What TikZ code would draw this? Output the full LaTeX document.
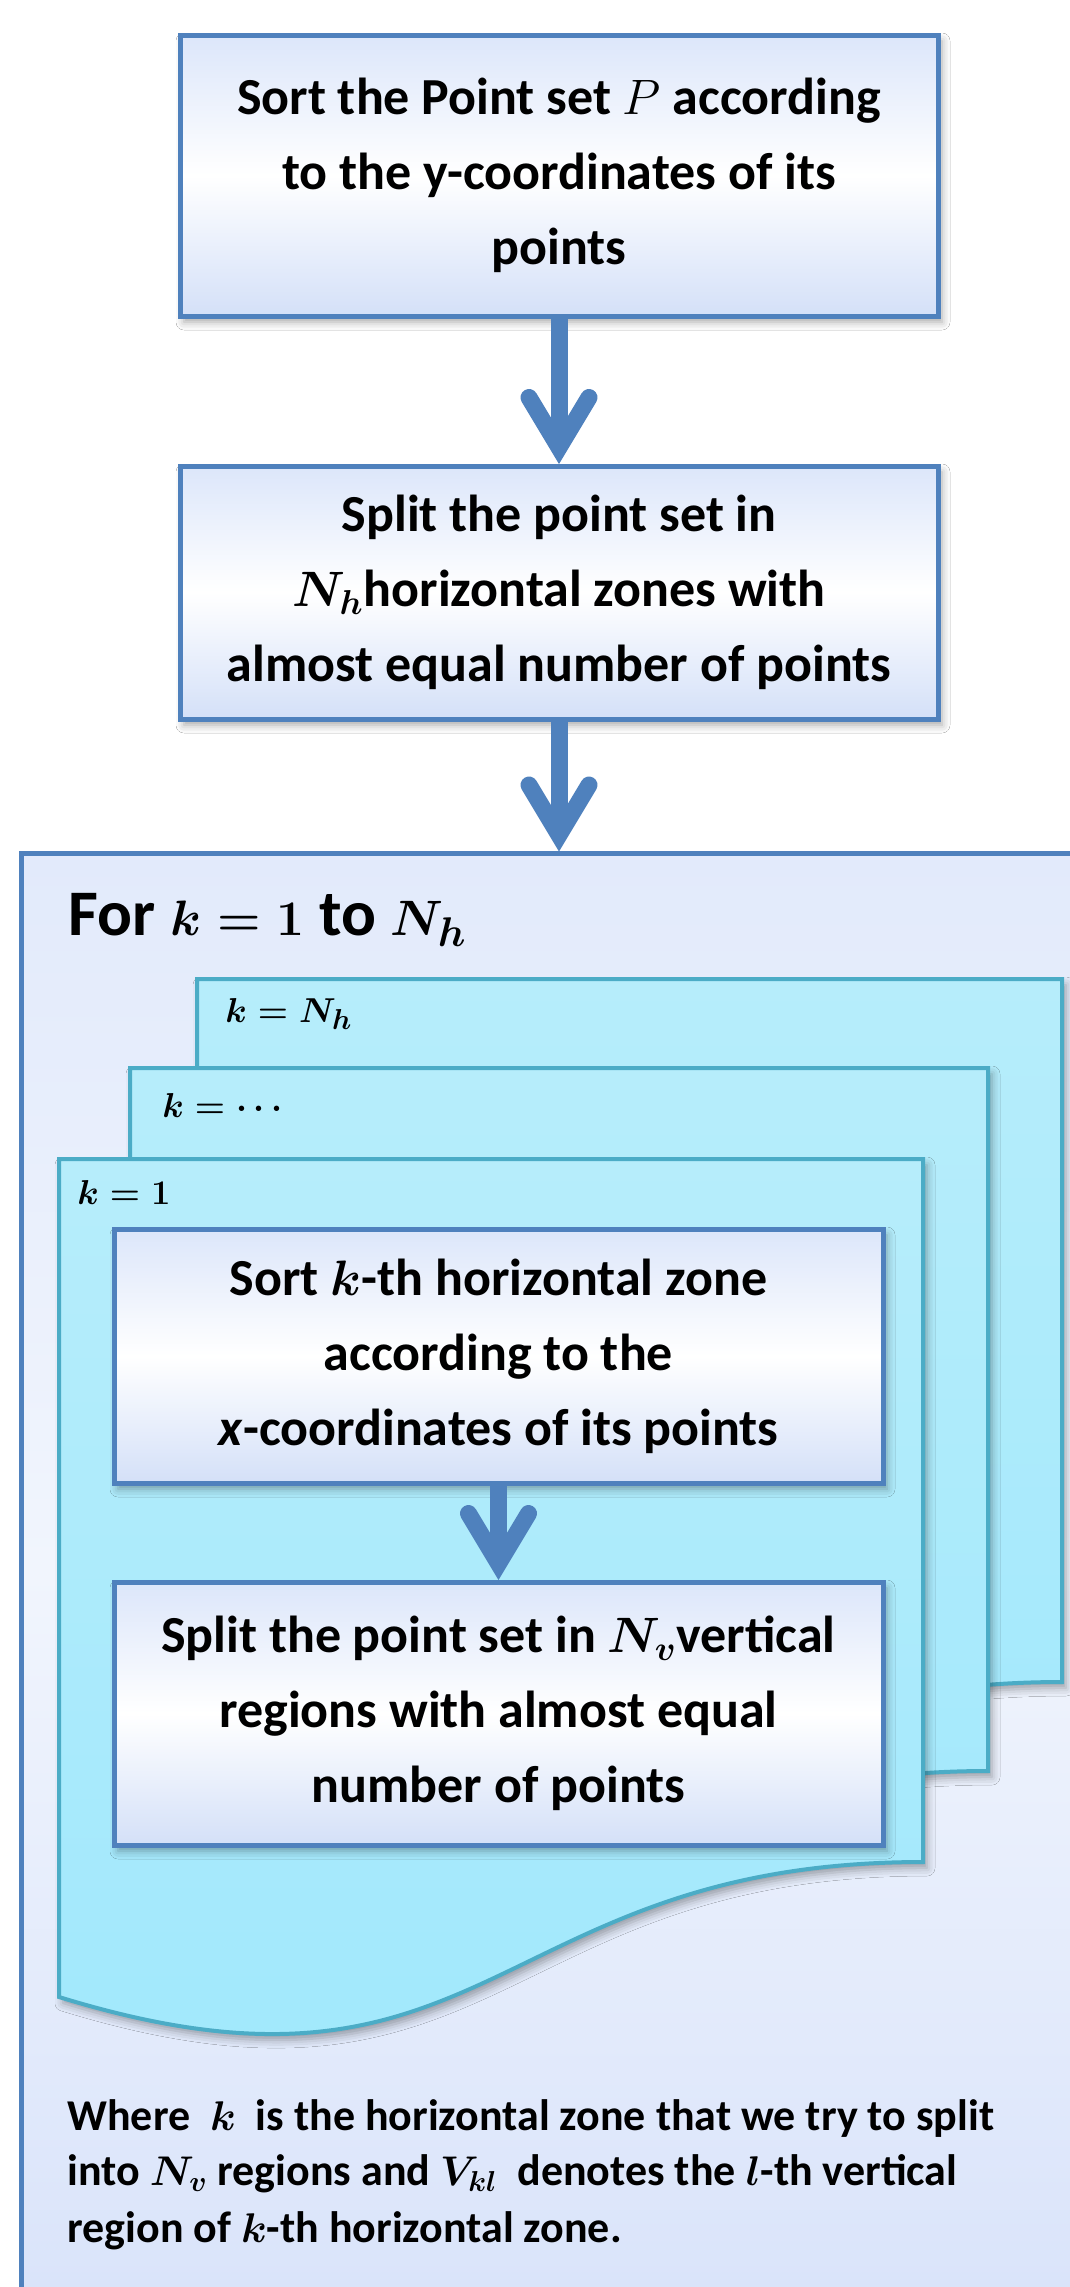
\documentclass[tikz,border=0pt]{standalone}
\usepackage{fontspec}
\setmainfont{Carlito}
\usetikzlibrary{shadows.blur,calc}
\definecolor{boxblue}{RGB}{79,129,189}
\definecolor{pageborder}{RGB}{75,172,198}
\definecolor{pagetop}{RGB}{182,237,251}
\definecolor{pagebot}{RGB}{160,232,252}
\definecolor{boxtop}{RGB}{220,230,250}
\definecolor{boxbot}{RGB}{212,224,248}
\definecolor{bigtop}{RGB}{226,234,251}
\definecolor{bigmid}{RGB}{241,245,253}
\definecolor{bigbot}{RGB}{218,228,250}
\begin{document}
\begin{tikzpicture}[x=0.5pt,y=-0.5pt,
  softshadow/.style={blur shadow={shadow xshift=2pt,shadow yshift=-3pt,shadow blur radius=4pt,shadow opacity=35}},
  flowbox/.style={draw=boxblue,line width=2.5pt,top color=boxtop,bottom color=boxbot,middle color=white,
    align=center,inner sep=0pt,softshadow,
    font=\bfseries\boldmath\fontsize{26}{37.5}\selectfont},
  pagesty/.style={draw=pageborder,line width=2pt,top color=pagetop,bottom color=pagebot,softshadow},
  shaft/.style={draw=boxblue,line width=8.5pt},
  barbs/.style={draw=boxblue,line width=8.5pt,line cap=round,line join=miter},
  lbl/.style={anchor=base west,inner sep=0pt,font=\bfseries\boldmath\fontsize{19}{23}\selectfont},
  note/.style={anchor=base west,inner sep=0pt,font=\bfseries\boldmath\fontsize{22}{28}\selectfont}]
\useasboundingbox (0,0) rectangle (1070,2287);
\fill[white] (0,0) rectangle (1070,2287);

% loop container
\fill[top color=bigtop,bottom color=bigbot,middle color=bigmid] (21,853) rectangle (1070,2287);
\draw[boxblue,line width=2.5pt] (21,2287) -- (21,853) -- (1070,853);
\coordinate (loop) at (559,853);

% top flow boxes
\node[flowbox,minimum width=379pt,minimum height=140.5pt] (b1) at (559,175.5)
  {Sort the Point set \mbox{\unboldmath$P$} according\\to the y-coordinates of its\\points};
\node[flowbox,minimum width=379pt,minimum height=126.5pt] (b2) at (559,592.5)
  {Split the point set in\\$N_h$horizontal zones with\\almost equal number of points};

% stacked pages
\path[pagesty] (197,979) -- (1062,979) -- (1062,1682) .. controls (629.5,1682) and (629.5,1950) .. (197,1817) -- cycle;
\path[pagesty] (130,1068) -- (988,1068) -- (988,1771) .. controls (559,1771) and (559,2039) .. (130,1906) -- cycle;
\path[pagesty] (59,1159) -- (923,1159) -- (923,1862) .. controls (491,1862) and (491,2130) .. (59,1997) -- cycle;

\node[lbl] (l3) at (225,1022) {$k = N_h$};
\node[lbl] (l2) at (162,1117) {$k = \cdots$};
\node[lbl] (l1) at (77,1204) {$k = 1$};

\node[anchor=base west,inner sep=0pt,font=\bfseries\boldmath\fontsize{32.5}{38}\selectfont] (hdr) at (68,935)
  {For $k = 1$ to $N_h$};

% inner boxes
\node[flowbox,minimum width=384.5pt,minimum height=127pt] (b3) at (498.5,1356)
  {Sort $k$-th horizontal zone\\according to the\\\textit{x}-coordinates of its points};
\node[flowbox,minimum width=384.5pt,minimum height=131.5pt] (b4) at (498.5,1713.5)
  {Split the point set in $N_v$vertical\\regions with almost equal\\number of points};

% arrows
\draw[shaft] (b1.south) -- ([yshift=8pt]b2.north);
\draw[barbs] ([xshift=-15pt,yshift=33pt]b2.north) -- ([yshift=8pt]b2.north) -- ([xshift=15pt,yshift=33pt]b2.north);
\draw[shaft] (b2.south) -- ([yshift=9pt]loop);
\draw[barbs] ([xshift=-15pt,yshift=34pt]loop) -- ([yshift=9pt]loop) -- ([xshift=15pt,yshift=34pt]loop);
\draw[shaft] (b3.south) -- ([yshift=8pt]b4.north);
\draw[barbs] ([xshift=-15pt,yshift=33pt]b4.north) -- ([yshift=8pt]b4.north) -- ([xshift=15pt,yshift=33pt]b4.north);

% note
\node[note] (n1) at (67,2130) {Where~ $k$ ~is the horizontal zone that we try to split};
\node[note] (n2) at (67,2185) {into $N_v$ regions and $V_{kl}$~ denotes the $l$-th vertical};
\node[note] (n3) at (67,2242) {region of $k$-th horizontal zone.};
\end{tikzpicture}
\end{document}
